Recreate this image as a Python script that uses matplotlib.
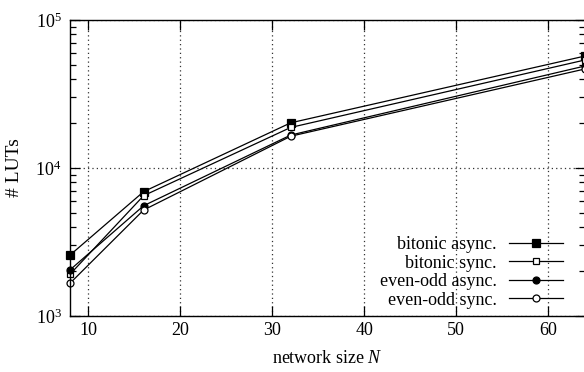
import numpy as np
import matplotlib
matplotlib.use("Agg")
import matplotlib.pyplot as plt
from matplotlib.ticker import LogLocator, MultipleLocator, NullFormatter

plt.rcParams["font.family"] = ["Liberation Serif", "DejaVu Serif"]
plt.rcParams["mathtext.fontset"] = "custom"
plt.rcParams["mathtext.rm"] = "Liberation Serif"
plt.rcParams["mathtext.it"] = "Liberation Serif:italic"
plt.rcParams["font.size"] = 13

# network sizes and LUT counts per sorter variant
sizes = [8, 16, 32, 64]
bitonic_async = [2580, 6920, 20200, 57100]
bitonic_sync = [1915, 6500, 18800, 53700]
evenodd_async = [2050, 5560, 16700, 48900]
evenodd_sync = [1665, 5200, 16400, 46700]

labels = ["bitonic async.", "bitonic sync.", "even-odd async.", "even-odd sync."]
series = [bitonic_async, bitonic_sync, evenodd_async, evenodd_sync]
markers = ["s", "s", "o", "o"]
fills = ["black", "white", "black", "white"]
msizes = [5.5, 5.0, 5.0, 5.0]

fig = plt.figure(figsize=(5.84, 3.72), dpi=100)
ax = fig.add_axes([0.1199, 0.1505, 0.8818, 0.7957])

for vals, lab, m, fc, ms in zip(series, labels, markers, fills, msizes):
    ax.plot(sizes, vals, color="black", lw=0.9, marker=m, ms=ms,
            mfc=fc, mec="black", mew=0.9, label=lab, clip_on=False)

ax.set_yscale("log")
ax.set_xlim(8, 64)
ax.set_ylim(1e3, 1e5)
ax.xaxis.set_major_locator(MultipleLocator(10))
ax.yaxis.set_major_locator(LogLocator(base=10))
ax.yaxis.set_minor_locator(LogLocator(base=10, subs=np.arange(2, 10)))
ax.yaxis.set_minor_formatter(NullFormatter())

ax.tick_params(which="both", direction="in", top=True, right=True,
               width=0.9, labelsize=13)
ax.tick_params(which="major", length=7, pad=6)
ax.tick_params(axis="x", which="major", pad=4)
ax.tick_params(which="minor", length=4)

ax.grid(True, which="major", color="#333333", linestyle=(0, (1, 2.5)), lw=0.9)
for s in ax.spines.values():
    s.set_linewidth(1.0)

ax.set_xlabel("network size $N$", fontsize=13, labelpad=8)
ax.set_ylabel("# LUTs", fontsize=14, labelpad=9)

leg = ax.legend(loc="lower right", bbox_to_anchor=(0.957, 0.025),
                frameon=False, markerfirst=False, handlelength=3.0,
                handletextpad=0.65, labelspacing=0.08, borderpad=0,
                borderaxespad=0, numpoints=1, fontsize=13)
# right-justify legend rows like gnuplot's key
for col in leg._legend_handle_box.get_children():
    col.align = "right"

fig.savefig("out.png", dpi=100)
